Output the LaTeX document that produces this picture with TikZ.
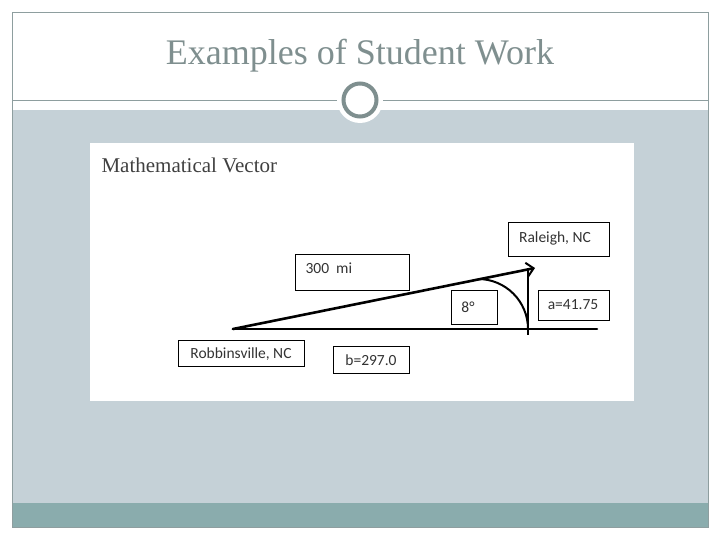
\documentclass[tikz,border=0pt]{standalone}
\usepackage{fontspec}
\setmainfont{Liberation Serif}
\newfontfamily\labelfont{Carlito}
\usetikzlibrary{arrows.meta}
\definecolor{slidegray}{HTML}{C5D1D7}
\definecolor{slideteal}{HTML}{8AACAD}
\definecolor{framegray}{HTML}{8E9E9F}
\definecolor{titlegray}{HTML}{7F8F8F}
\tikzset{
  lbl/.style={draw=black, line width=0.8pt, fill=white, inner sep=0pt, anchor=north west},
  lbltext/.style={font=\labelfont\fontsize{15.5}{18}\selectfont, text=black!80},
  vec/.style={line width=2.6pt, line cap=round}
}
\begin{document}
\begin{tikzpicture}[x=1pt, y=-1pt]
    \useasboundingbox (0,0) rectangle (720,540);
    % slide background
    \fill[slidegray] (12,110) rectangle (708,503);
    \fill[slideteal] (12,503) rectangle (708,527);
    \draw[framegray, line width=0.8pt] (12,12) rectangle (708,527);
    \draw[framegray, line width=0.8pt] (12,100) -- (708,100);
    \node[text=titlegray, font=\fontsize{36}{40}\selectfont] (title) at (360,56) {Examples of Student Work};
    \fill[white] (360,100) circle (23);
    \draw[titlegray, line width=4pt] (360,100) circle (16.5);

    % student picture
    \fill[white] (90,143) rectangle (634,401);
    \node[anchor=west, text=black!75, font=\fontsize{21}{24}\selectfont] (head) at (98,165) {Mathematical Vector};

    \coordinate (robb) at (233,329);
    \coordinate (endb) at (597,329);
    \coordinate (tip) at (535,268);
    \coordinate (foot) at (528,335);
    \coordinate (top) at (528,270);
    \draw[vec] (robb) -- (endb);
    \draw[vec, -{Straight Barb[length=7pt, width=14pt, line width=2pt]}] (robb) -- (tip);
    \draw[line width=1.8pt] (top) -- (foot);
    \draw[line width=2pt] (478,279) arc[start angle=-90, end angle=0, radius=50];

    \node[lbl, minimum width=114pt, minimum height=36pt] (dist) at (295,254) {};
    \node[lbltext, anchor=west] (distt) at (302,268) {300\ \ mi};
    \node[lbl, minimum width=101pt, minimum height=34pt] (ral) at (508,222) {};
    \node[lbltext] (ralt) at (555,238) {Raleigh, NC};
    \node[lbl, minimum width=46pt, minimum height=34pt] (ang) at (451,290) {};
    \node[lbltext] (angt) at (468,307) {8°};
    \node[lbl, minimum width=71pt, minimum height=30pt] (a) at (538,290) {};
    \node[lbltext] (at) at (573,305) {a=41.75};
    \node[lbl, minimum width=126pt, minimum height=26pt] (rob) at (178,340) {};
    \node[lbltext] (robt) at (241,354) {Robbinsville, NC};
    \node[lbl, minimum width=76pt, minimum height=27pt] (b) at (333,346) {};
    \node[lbltext] (bt) at (371,360) {b=297.0};
\end{tikzpicture}
\end{document}
